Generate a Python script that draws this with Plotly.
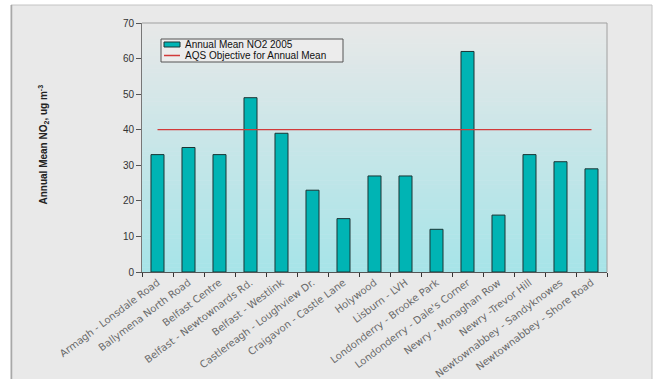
import plotly.graph_objects as go

sites = [
    "Armagh - Lonsdale Road",
    "Ballymena North Road",
    "Belfast Centre",
    "Belfast - Newtownards Rd.",
    "Belfast - Westlink",
    "Castlereagh - Loughview Dr.",
    "Craigavon - Castle Lane",
    "Holywood",
    "Lisburn - LVH",
    "Londonderry - Brooke Park",
    "Londonderry - Dale's Corner",
    "Newry - Monaghan Row",
    "Newry -Trevor Hill",
    "Newtownabbey - Sandyknowes",
    "Newtownabbey - Shore Road",
]
no2_2005 = [33, 35, 33, 49, 39, 23, 15, 27, 27, 12, 62, 16, 33, 31, 29]
aqs_objective = 40
y_ticks = [0, 10, 20, 30, 40, 50, 60, 70]
bar_name = "Annual Mean NO2 2005"
line_name = "AQS Objective for Annual Mean"

W, H = 656, 379
L, R, T, B = 142, 49, 23, 107
pw, ph = W - L - R, H - T - B

FONT = "Arial, Liberation Sans, sans-serif"
LABEL_FONT = "DejaVu Sans, Verdana, sans-serif"
BAR_COLOR = "#00b4b4"
LINE_COLOR = "#d23a3a"

fig = go.Figure()
fig.add_trace(go.Bar(
    x=sites, y=no2_2005, name=bar_name,
    marker=dict(color=BAR_COLOR, line=dict(color="#1c3434", width=1)),
))
fig.add_trace(go.Scatter(
    x=[sites[0], sites[-1]], y=[aqs_objective, aqs_objective],
    mode="lines", name=line_name,
    line=dict(color=LINE_COLOR, width=1.3),
))


def px2x(p):
    return (p - L) / pw


def px2y(p):
    return (H - B - p) / ph


shapes = []
# outer grey panel
shapes.append(dict(type="rect", xref="paper", yref="paper", layer="below",
                   x0=px2x(11), x1=px2x(652), y0=px2y(380), y1=px2y(5),
                   fillcolor="#e9e9e9", line=dict(color="#c4c4c4", width=1)))
shapes.append(dict(type="line", xref="paper", yref="paper", layer="below",
                   x0=px2x(11.5), x1=px2x(11.5), y0=px2y(380), y1=px2y(5),
                   line=dict(color="#a8a8a8", width=1.5)))
# vertical gradient in the plot area
top = (0xe8, 0xe8, 0xe8)
bot = (0xa6, 0xe4, 0xe8)
n = 60
for i in range(n):
    t = (i + 0.5) / n
    c = tuple(round(bot[k] + (top[k] - bot[k]) * t) for k in range(3))
    shapes.append(dict(type="rect", xref="x domain", yref="y domain", layer="below",
                       x0=0, x1=1, y0=i / n, y1=(i + 1) / n + 0.002,
                       fillcolor="rgb(%d,%d,%d)" % c, line=dict(width=0)))
# top and right plot border
shapes.append(dict(type="line", xref="paper", yref="paper", x0=0, x1=1, y0=1, y1=1,
                   line=dict(color="#a0a0a0", width=1)))
shapes.append(dict(type="line", xref="paper", yref="paper", x0=1, x1=1, y0=0, y1=1,
                   line=dict(color="#a0a0a0", width=1)))

# compact legend (box, swatches)
shapes.append(dict(type="rect", xref="paper", yref="paper",
                   x0=px2x(161), x1=px2x(343), y0=px2y(62), y1=px2y(39),
                   fillcolor="#ececec", line=dict(color="#555", width=1)))
shapes.append(dict(type="rect", xref="paper", yref="paper",
                   x0=px2x(164), x1=px2x(180), y0=px2y(47), y1=px2y(42),
                   fillcolor=BAR_COLOR, line=dict(color="#1c3434", width=1)))
shapes.append(dict(type="line", xref="paper", yref="paper",
                   x0=px2x(164), x1=px2x(180), y0=px2y(55.5), y1=px2y(55.5),
                   line=dict(color=LINE_COLOR, width=1.5)))

annotations = [
    dict(text="<b>Annual Mean NO<sub>2</sub>, ug m<sup>-3</sup></b>",
         xref="paper", yref="paper", x=px2x(34), y=px2y(145),
         textangle=-90, showarrow=False,
         font=dict(family=FONT, size=10, color="#222")),
    dict(text=bar_name, xref="paper", yref="paper", x=px2x(183), y=px2y(44.5),
         xanchor="left", yanchor="middle", showarrow=False,
         font=dict(family=FONT, size=10, color="#111")),
    dict(text=line_name, xref="paper", yref="paper", x=px2x(183), y=px2y(55.5),
         xanchor="left", yanchor="middle", showarrow=False,
         font=dict(family=FONT, size=10, color="#111")),
]

fig.update_layout(
    width=W, height=H,
    margin=dict(l=L, r=R, t=T, b=B, autoexpand=False),
    paper_bgcolor="white", plot_bgcolor="rgba(0,0,0,0)",
    font=dict(family=FONT, size=10, color="#333"),
    bargap=0.58,
    shapes=shapes,
    annotations=annotations,
    showlegend=False,
    xaxis=dict(type="category", tickangle=-37, tickson="boundaries",
               ticks="outside", ticklen=4, tickcolor="#333",
               showline=True, linecolor="#555", linewidth=1,
               tickfont=dict(family=LABEL_FONT, size=10, color="#6a6a6a"),
               showgrid=False, fixedrange=True),
    yaxis=dict(range=[0, 70], tickvals=y_ticks, ticks="outside", ticklen=5,
               tickcolor="#555", showline=True, linecolor="#777", linewidth=1,
               showgrid=False, zeroline=False,
               tickfont=dict(family=FONT, size=10, color="#333")),
)

fig.write_html("out.html")
